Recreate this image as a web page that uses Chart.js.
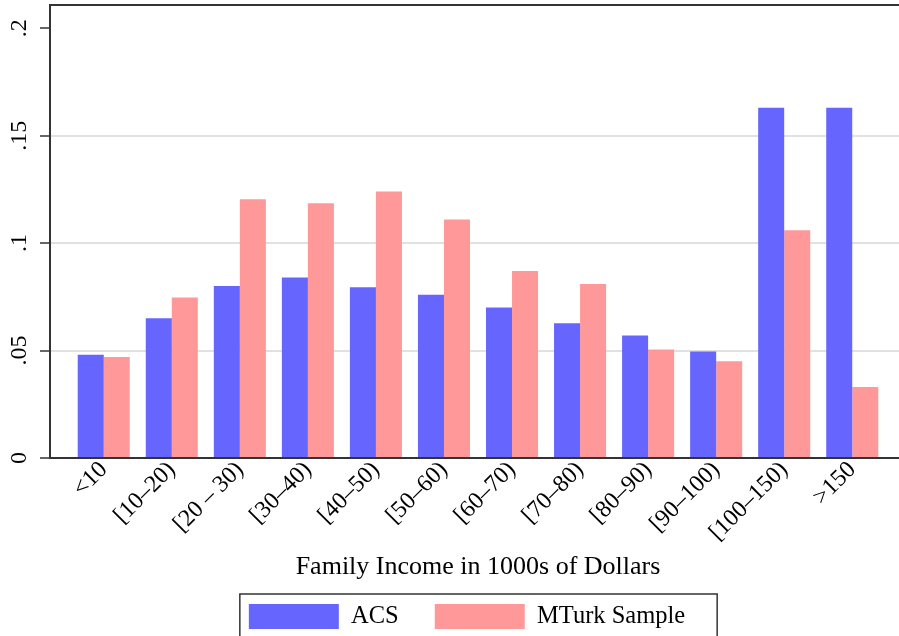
<!DOCTYPE html>
<html lang="en">
<head>
<meta charset="UTF-8">
<title>Family Income: ACS vs MTurk Sample</title>
<script src="https://cdn.jsdelivr.net/npm/chart.js"></script>
<style>
  html, body { margin: 0; padding: 0; background: #fff; overflow: hidden; }
  .viewport { width: 899px; height: 636px; overflow: hidden; }
  .chart-container { position: relative; width: 956px; height: 639px; }
</style>
</head>
<body>
<div class="viewport">
  <div class="chart-container"><canvas id="incomeChart"></canvas></div>
</div>
<script>
const categories = ['<10', '[10\u201320)', '[20 \u2013 30)', '[30\u201340)', '[40\u201350)', '[50\u201360)',
                    '[60\u201370)', '[70\u201380)', '[80\u201390)', '[90\u2013100)', '[100\u2013150)', '>150'];
const acsShares   = [0.048, 0.065, 0.080, 0.084, 0.0795, 0.076, 0.070, 0.0627, 0.057, 0.0496, 0.163, 0.163];
const mturkShares = [0.047, 0.0747, 0.1204, 0.1185, 0.124, 0.111, 0.087, 0.081, 0.0505, 0.045, 0.106, 0.033];
const yTicks      = [0, 0.05, 0.1, 0.15, 0.2];
const yTickLabels = ['0', '.05', '.1', '.15', '.2'];

const serif = '"Liberation Serif", "Times New Roman", serif';
Chart.defaults.font.family = serif;
Chart.defaults.color = '#000';

// top edge of the plot region and the box round the legend
const framePlugin = {
    id: 'frame',
    afterDraw(chart) {
        const {ctx, chartArea} = chart;
        ctx.save();
        ctx.strokeStyle = '#333';
        ctx.lineWidth = 2;
        ctx.beginPath();
        ctx.moveTo(chartArea.left - 1, chartArea.top);
        ctx.lineTo(chartArea.right, chartArea.top);
        ctx.stroke();

        const boxes = chart.legend.legendHitBoxes;
        if (boxes && boxes.length) {
            const first = boxes[0], last = boxes[boxes.length - 1];
            const left = first.left - 9;
            const right = last.left + last.width + 32;
            const top = first.top - 10;
            ctx.lineWidth = 1.5;
            ctx.strokeRect(left, top, right - left, first.height + 20);
        }
        ctx.restore();
    }
};

new Chart(document.getElementById('incomeChart'), {
    type: 'bar',
    data: {
        datasets: [
            {
                label: 'ACS',
                data: acsShares.map((v, i) => ({x: i, y: v})),
                backgroundColor: '#6666ff',
                borderWidth: 0
            },
            {
                label: 'MTurk Sample',
                data: mturkShares.map((v, i) => ({x: i, y: v})),
                backgroundColor: '#ff9999',
                borderWidth: 0
            }
        ]
    },
    options: {
        responsive: true,
        maintainAspectRatio: false,
        animation: false,
        categoryPercentage: 0.765,
        barPercentage: 1,
        layout: { padding: { top: 5, left: 0, right: 22, bottom: 0 } },
        plugins: {
            tooltip: { enabled: false },
            legend: {
                position: 'bottom',
                labels: {
                    boxWidth: 90,
                    boxHeight: 25,
                    padding: 36,
                    font: { size: 24.5 },
                    color: '#000'
                }
            }
        },
        scales: {
            x: {
                type: 'linear',
                offset: false,
                min: -0.79,
                max: 11.79,
                z: 1,
                afterBuildTicks: (scale) => { scale.ticks = categories.map((c, i) => ({value: i})); },
                afterFit: (scale) => { scale.height = 110; },
                ticks: {
                    minRotation: 45,
                    maxRotation: 45,
                    padding: -10,
                    font: { size: 24 },
                    color: '#000',
                    callback: (v) => categories[v]
                },
                grid: { display: false },
                border: { display: true, color: '#333', width: 2 },
                title: {
                    display: true,
                    text: 'Family Income in 1000s of Dollars',
                    font: { size: 26, lineHeight: 1 },
                    color: '#000',
                    padding: { top: 0, bottom: -12 }
                }
            },
            y: {
                min: 0,
                max: 0.2108,
                afterBuildTicks: (scale) => { scale.ticks = yTicks.map(v => ({value: v})); },
                afterFit: (scale) => {
                    scale.width = 50;
                    scale.paddingTop = 0;
                    scale.paddingBottom = 0;
                },
                ticks: {
                    minRotation: 90,
                    maxRotation: 90,
                    crossAlign: 'center',
                    padding: 5,
                    font: { size: 24 },
                    color: '#000',
                    callback: (v, i) => yTickLabels[i]
                },
                grid: {
                    color: (ctx) => (ctx.tick && ctx.tick.value > 0 && ctx.tick.value < 0.2) ? '#e1e1e1' : 'rgba(0,0,0,0)',
                    lineWidth: 2,
                    tickColor: '#333',
                    tickLength: 10,
                    tickWidth: 1.5
                },
                border: { display: true, color: '#333', width: 2 }
            },
            // hidden right-hand spacer so the legend sits where it does in the original
            spacer: {
                type: 'linear',
                position: 'right',
                display: false,
                afterFit: (scale) => { scale.width = 28; }
            }
        }
    },
    plugins: [framePlugin]
});
</script>
</body>
</html>
